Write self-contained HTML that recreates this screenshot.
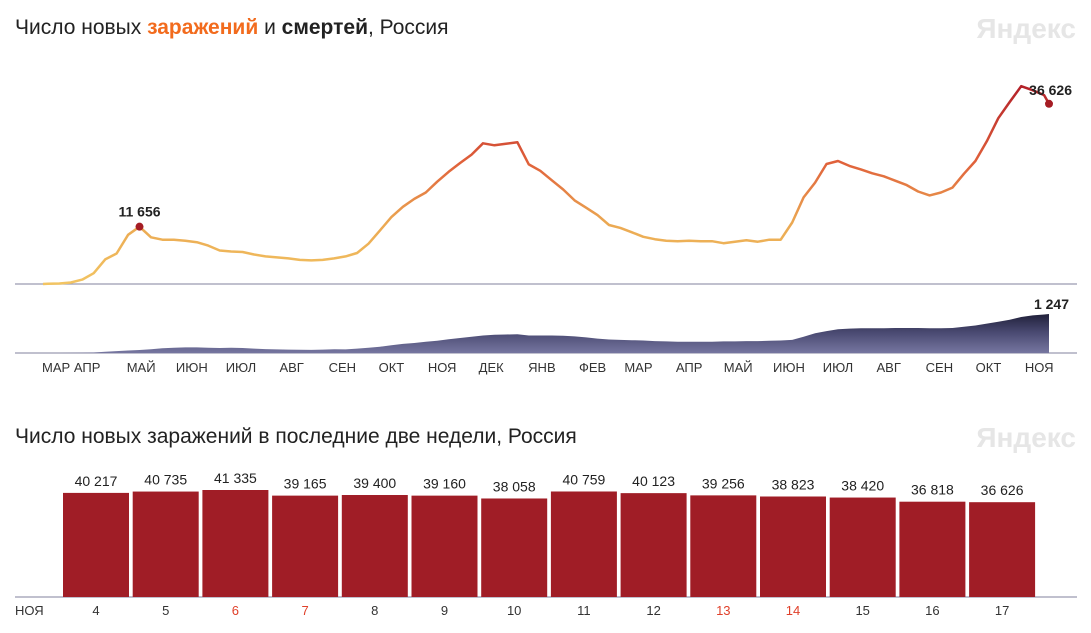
<!DOCTYPE html>
<html><head><meta charset="utf-8">
<style>
body{margin:0;background:#fff;}
svg{display:block;font-family:"Liberation Sans","DejaVu Sans",sans-serif;}
</style></head>
<body>
<svg id="c" width="1091" height="633" viewBox="0 0 1091 633">
<defs>
<linearGradient id="lg" gradientUnits="userSpaceOnUse" x1="0" y1="284" x2="0" y2="80">
<stop offset="0" stop-color="#f2c462"/><stop offset="0.3" stop-color="#eba852"/><stop offset="0.6" stop-color="#e0603a"/><stop offset="1" stop-color="#b01c28"/>
</linearGradient>
<linearGradient id="ag" gradientUnits="userSpaceOnUse" x1="0" y1="312" x2="0" y2="353">
<stop offset="0" stop-color="#1c1c34"/><stop offset="0.5" stop-color="#4a4a72"/><stop offset="1" stop-color="#7676a0"/>
</linearGradient>
</defs>
<text x="15" y="34" font-size="21" fill="#222">Число новых <tspan fill="#f26b1d" font-weight="bold">заражений</tspan> и <tspan font-weight="bold">смертей</tspan>, Россия</text>
<text x="1076" y="38" font-size="28" font-weight="bold" fill="#e6e6e6" text-anchor="end">Яндекс</text>
<g id="topchart"></g>
<text x="15" y="443" font-size="21" fill="#222">Число новых заражений в последние две недели, Россия</text>
<text x="1076" y="447" font-size="28" font-weight="bold" fill="#e6e6e6" text-anchor="end">Яндекс</text>
<g id="bars"></g>
</svg>
<script>
const cases=[0.05,0.1,0.3,0.9,2.2,5.0,6.2,10.0,11.656,9.5,9.0,9.0,8.8,8.5,7.8,6.8,6.6,6.5,6.0,5.6,5.4,5.2,4.9,4.8,4.9,5.2,5.6,6.3,8.2,10.9,13.6,15.7,17.3,18.6,20.8,22.8,24.6,26.3,28.6,28.2,28.5,28.8,24.3,23.0,21.1,19.2,17.0,15.5,14.0,12.0,11.4,10.5,9.6,9.1,8.8,8.7,8.8,8.7,8.7,8.3,8.6,8.9,8.6,9.0,9.0,12.5,17.6,20.6,24.4,25.0,24.0,23.3,22.5,21.9,21.0,20.1,18.8,18.0,18.6,19.6,22.4,25.0,29.0,33.7,37.0,40.2,39.4,38.4];
const lastCase=36.626;
const deaths=[0,0,2,5,15,40,60,80,95,120,150,170,180,180,170,160,170,160,140,125,115,110,105,100,110,120,115,140,170,200,250,290,320,360,390,440,480,520,560,580,590,600,560,560,560,550,530,500,460,430,420,410,400,380,370,360,360,360,360,370,370,380,380,390,400,420,520,630,700,760,780,790,790,790,800,800,800,790,790,800,840,880,940,1000,1060,1150,1200,1230];
const lastDeath=1247;
const monthLabels=["МАР","АПР","МАЙ","ИЮН","ИЮЛ","АВГ","СЕН","ОКТ","НОЯ","ДЕК","ЯНВ","ФЕВ","МАР","АПР","МАЙ","ИЮН","ИЮЛ","АВГ","СЕН","ОКТ","НОЯ"];
const monthDays=[8,27,60,91,121,152,183,213,244,274,305,336,364,395,425,456,486,517,548,578,609];
const barDays=["4","5","6","7","8","9","10","11","12","13","14","15","16","17"];
const barValues=[40217,40735,41335,39165,39400,39160,38058,40759,40123,39256,38823,38420,36818,36626];
const barLabels=["40 217","40 735","41 335","39 165","39 400","39 160","38 058","40 759","40 123","39 256","38 823","38 420","36 818","36 626"];
const weekendIdx=[2,3,9,10];

const NS="http://www.w3.org/2000/svg";
function mk(tag,attrs,parent,text){const e=document.createElementNS(NS,tag);for(const k in attrs)e.setAttribute(k,attrs[k]);if(text!==undefined)e.textContent=text;parent.appendChild(e);return e;}
const topG=document.getElementById('topchart');
const x0=43,x1=1049,D=615;
const xs=d=>x0+d*(x1-x0)/D;
const yc=v=>284-v*4.92;
const yd=v=>353-v*0.0313;
const dayOf=i=>3+7*i;

let l1=mk('line',{x1:15,x2:1077,y1:284,y2:284,stroke:'#9a9ab0','stroke-width':1.3},topG);


let l2=mk('line',{x1:15,x2:1077,y1:353,y2:353,stroke:'#9a9ab0','stroke-width':1.3},topG);



let pts=[[xs(0),yc(0)]];
cases.forEach((v,i)=>pts.push([xs(dayOf(i)),yc(v)]));
pts.push([xs(D),yc(lastCase)]);
let cl=mk('polyline',{points:pts.map(p=>p[0].toFixed(1)+','+p[1].toFixed(1)).join(' '),fill:'none',stroke:'url(#lg)','stroke-width':2.5,'stroke-linejoin':'round'},topG);



let pi=0;for(let i=0;i<20;i++)if(cases[i]>cases[pi])pi=i;
let pd=mk('circle',{cx:xs(dayOf(pi)),cy:yc(cases[pi]),r:4,fill:'#a51c24'},topG);


let pt=mk('text',{x:xs(dayOf(pi)),y:yc(cases[pi])-10,'font-size':14,'font-weight':'bold',fill:'#222','text-anchor':'middle'},topG,'11 656');


let ld=mk('circle',{cx:xs(D),cy:yc(lastCase),r:4,fill:'#a51c24'},topG);


let lt=mk('text',{x:xs(D)+23,y:yc(lastCase)-9,'font-size':14,'font-weight':'bold',fill:'#222','text-anchor':'end'},topG,'36 626');



let ap=[[xs(0),yd(0)]];
deaths.forEach((v,i)=>ap.push([xs(dayOf(i)),yd(v)]));
ap.push([xs(D),yd(lastDeath)]);
let dstr='M'+xs(0)+',353 '+ap.map(p=>'L'+p[0].toFixed(1)+','+p[1].toFixed(1)).join(' ')+' L'+xs(D)+',353 Z';
let da=mk('path',{d:dstr,fill:'url(#ag)'},topG);


let dl=mk('text',{x:xs(D)+20,y:yd(lastDeath)-5,'font-size':14,'font-weight':'bold',fill:'#222','text-anchor':'end'},topG,'1 247');



monthLabels.forEach((m,i)=>{
  let t=mk('text',{x:xs(monthDays[i]),y:372,'font-size':13,fill:'#333','text-anchor':'middle'},topG,m);
  
  
});

const bars=document.getElementById('bars');
const bx0=63,pitch=69.7,bw=66,base=597,bscale=107/41335;
let bl=mk('line',{x1:15,x2:1077,y1:base,y2:base,stroke:'#9a9ab0','stroke-width':1.3},bars);


barValues.forEach((v,i)=>{
  const h=v*bscale,x=bx0+i*pitch;
  let r=mk('rect',{x:x,y:base-h,width:bw,height:h,fill:'#a01d26'},bars);
  
  
  let t=mk('text',{x:x+bw/2,y:base-h-7,'font-size':14,fill:'#222','text-anchor':'middle'},bars,barLabels[i]);
  
  
  let d=mk('text',{x:x+bw/2,y:615,'font-size':13,fill:weekendIdx.includes(i)?'#e0402a':'#333','text-anchor':'middle'},bars,barDays[i]);
  
  
});
let nl=mk('text',{x:15,y:615,'font-size':13,fill:'#333'},bars,'НОЯ');


</script>
</body></html>
